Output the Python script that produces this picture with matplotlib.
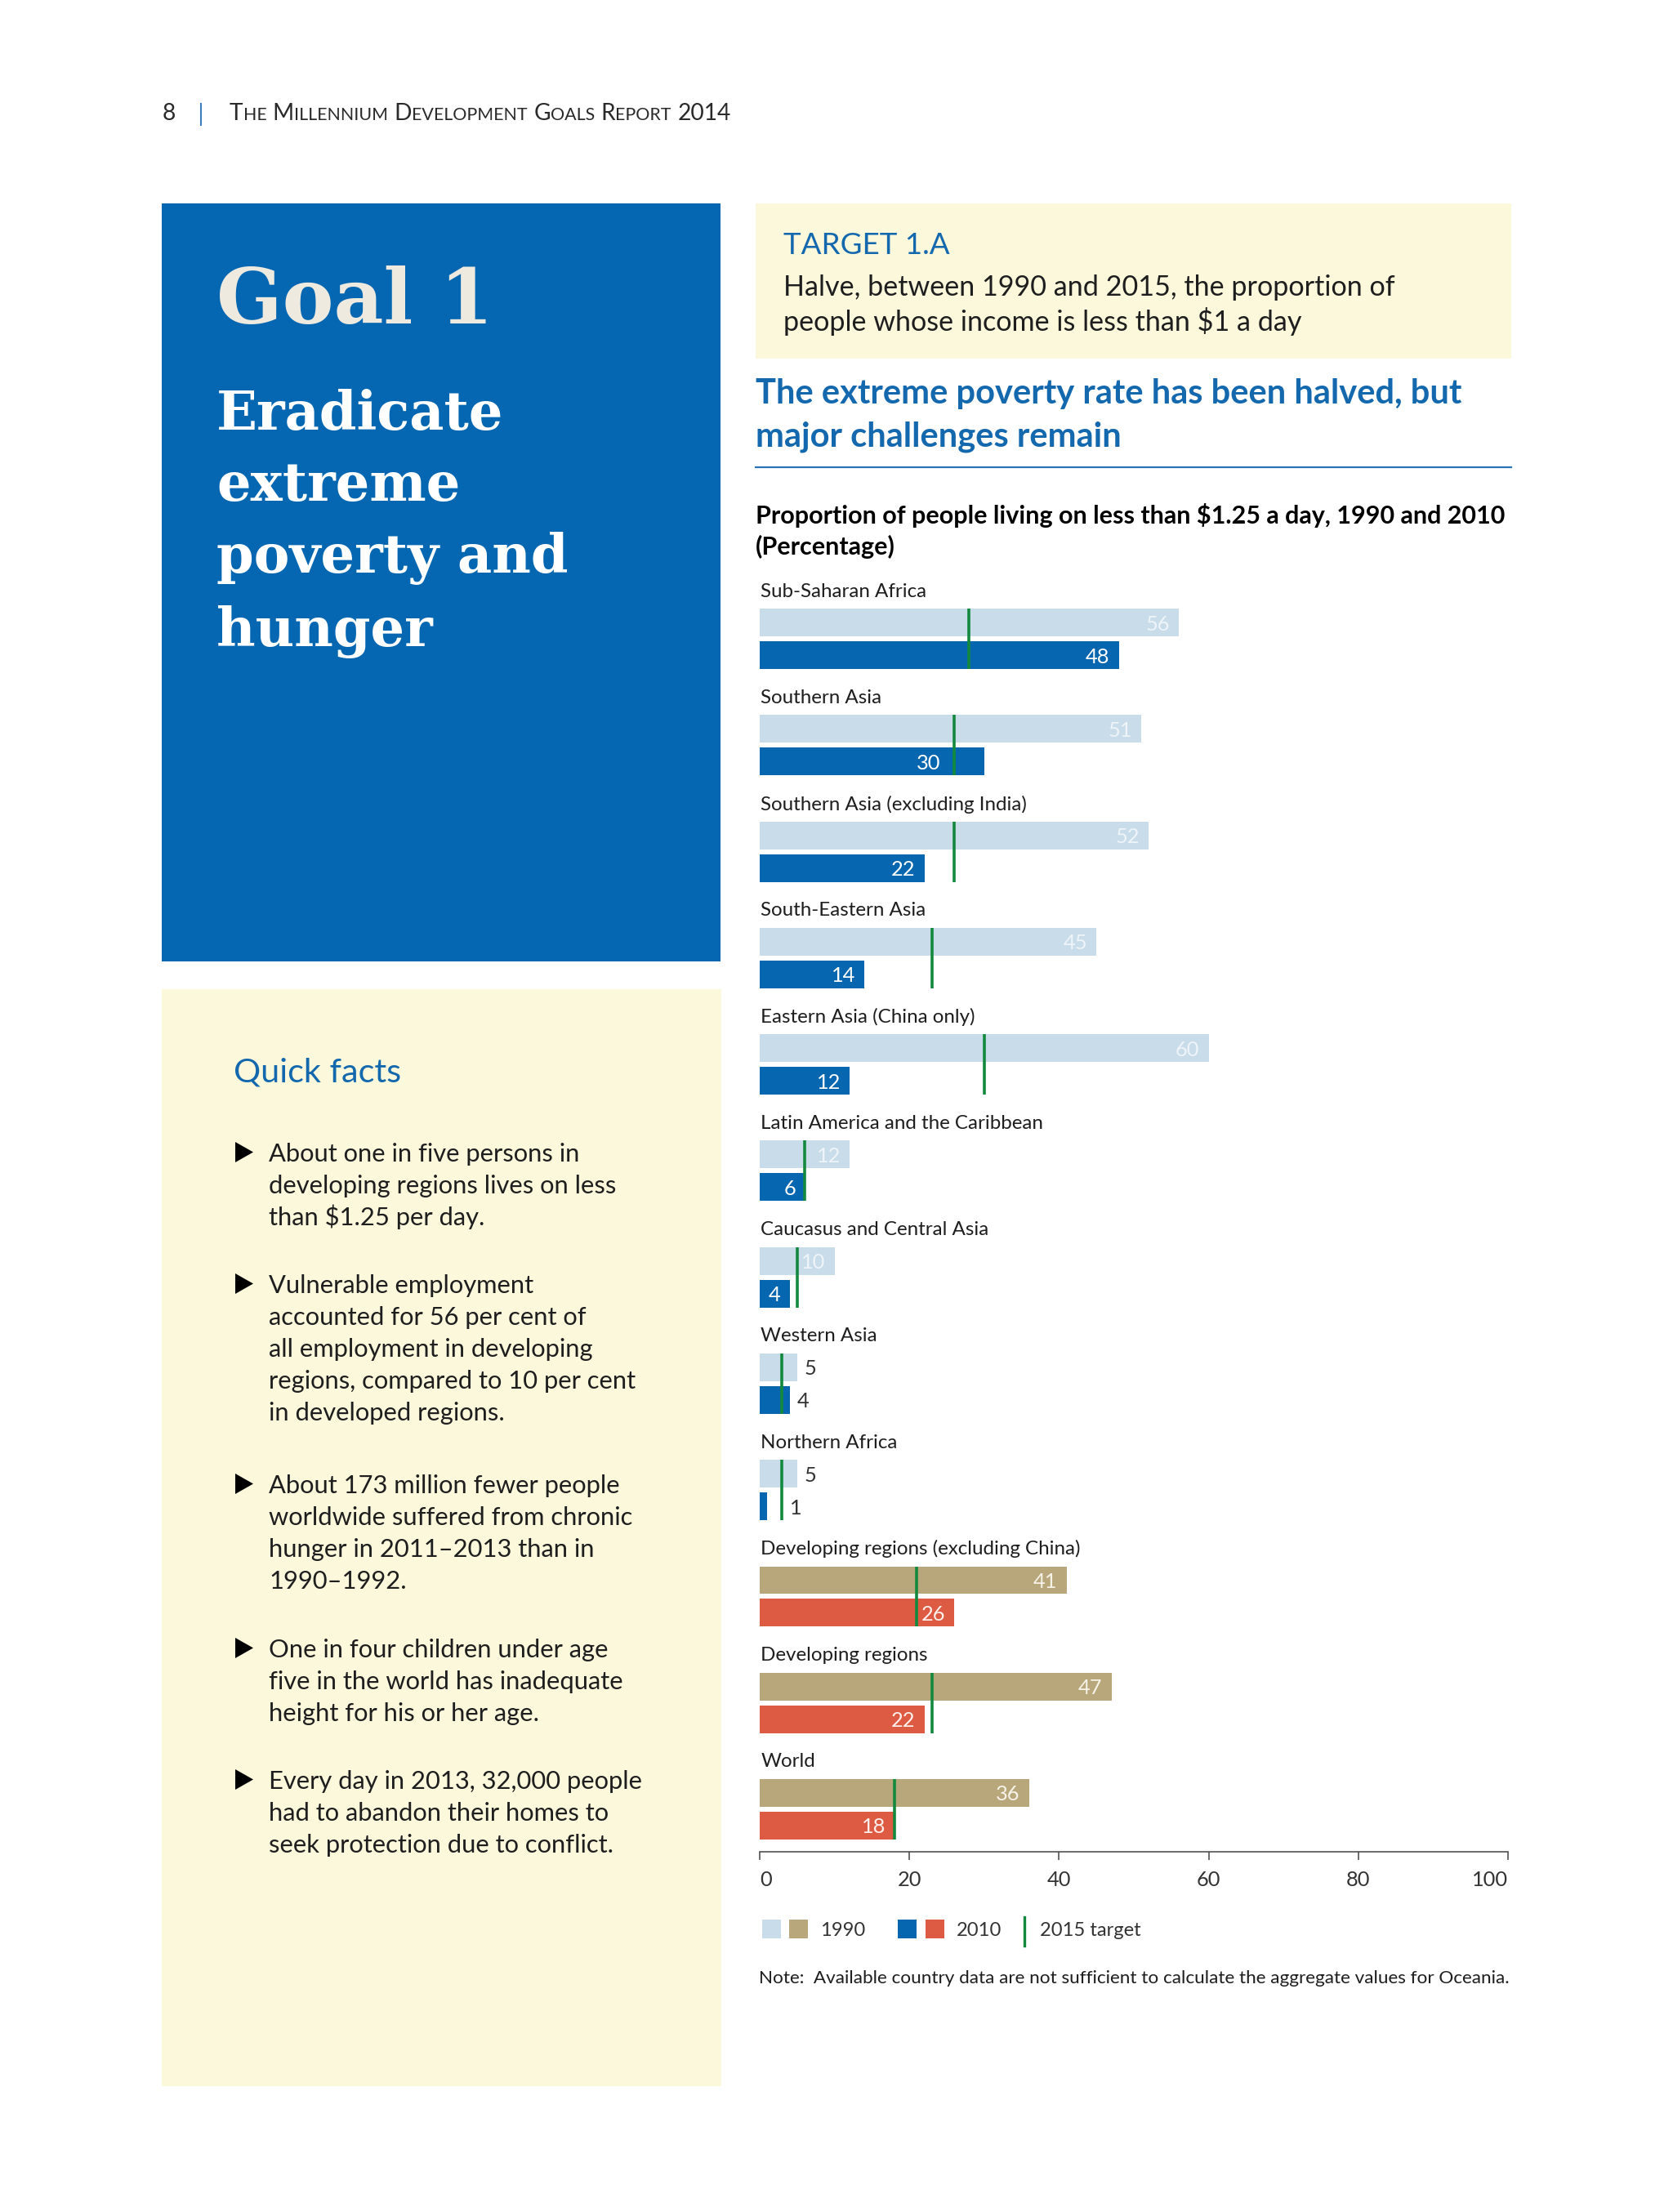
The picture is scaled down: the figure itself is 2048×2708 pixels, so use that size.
import matplotlib
matplotlib.use("Agg")
import matplotlib.pyplot as plt
from matplotlib import font_manager
from matplotlib.patches import Rectangle, Polygon

# chart data
regions = ["Sub-Saharan Africa", "Southern Asia", "Southern Asia (excluding India)",
           "South-Eastern Asia", "Eastern Asia (China only)",
           "Latin America and the Caribbean", "Caucasus and Central Asia",
           "Western Asia", "Northern Africa", "Developing regions (excluding China)",
           "Developing regions", "World"]
rate_1990 = [56, 51, 52, 45, 60, 12, 10, 5, 5, 41, 47, 36]
rate_2010 = [48, 30, 22, 14, 12, 6, 4, 4, 1, 26, 22, 18]
target_2015 = [28, 26, 26, 23, 30, 6, 5, 3, 3, 21, 23, 18]
n_subregions = 9          # rows after this are the aggregates (other colours)
x_ticks = [0, 20, 40, 60, 80, 100]

quick_facts = [
    ["About one in five persons in", "developing regions lives on less", "than $1.25 per day."],
    ["Vulnerable employment", "accounted for 56 per cent of", "all employment in developing",
     "regions, compared to 10 per cent", "in developed regions."],
    ["About 173 million fewer people", "worldwide suffered from chronic",
     "hunger in 2011\u20132013 than in", "1990\u20131992."],
    ["One in four children under age", "five in the world has inadequate", "height for his or her age."],
    ["Every day in 2013, 32,000 people", "had to abandon their homes to",
     "seek protection due to conflict."],
]
fact_baselines = [[1422, 1461, 1500], [1583, 1622, 1661, 1700, 1739],
                  [1828, 1867, 1906, 1945], [2029, 2068, 2107], [2190, 2229, 2268]]

# colours
LIGHT_BLUE = "#c9dcea"
DARK_BLUE = "#0766b0"
TAN = "#b7a77a"
RED = "#dd5b42"
GREEN = "#13893e"
PAGE_BLUE = "#0567b1"
PALE = "#fbf8dc"
HEAD_BLUE = "#1468ae"
INK = "#1e1e1e"


def has_font(name):
    try:
        font_manager.findfont(font_manager.FontProperties(family=name), fallback_to_default=False)
        return True
    except Exception:
        return False


SANS = "Lato" if has_font("Lato") else "DejaVu Sans"
NARROW = "Liberation Sans Narrow" if has_font("Liberation Sans Narrow") else SANS
plt.rcParams["font.family"] = [SANS, "DejaVu Sans"]

W, H = 2048, 2708
fig = plt.figure(figsize=(W / 100, H / 100), dpi=100, facecolor="white")
renderer = fig.canvas.get_renderer()

# page layer in pixel coordinates
bg = fig.add_axes([0, 0, 1, 1], zorder=0)
bg.set_xlim(0, W)
bg.set_ylim(H, 0)
bg.axis("off")


def fit(texts, width, ref=0):
    w = texts[ref].get_window_extent(renderer=renderer).width
    for t in texts:
        t.set_fontsize(t.get_fontsize() * width / w)
    return texts


def lines_at(x, baselines, lines, size, **kw):
    return [bg.text(x, y, s, fontsize=size, va="baseline", ha="left", **kw)
            for y, s in zip(baselines, lines)]


def small_caps(x0, y, s, size, ratio=0.76, **kw):
    arts, x = [], x0
    for k, word in enumerate(s.split(" ")):
        if k:
            x += 0.27 * size * 100 / 72
        runs = []
        for ch in word:
            small = ch.islower()
            if runs and runs[-1][1] == small:
                runs[-1][0] += ch
            else:
                runs.append([ch, small])
        for run, small in runs:
            t = bg.text(x, y, run.upper(), fontsize=size * ratio if small else size,
                        va="baseline", ha="left", **kw)
            x += t.get_window_extent(renderer=renderer).width
            arts.append(t)
    return arts, x


# header
hdr_kw = dict(color="#2a2a2a")
arts, xend = small_caps(281, 147, "The Millennium Development Goals Report 2014", 20, **hdr_kw)
scale = 610 / (xend - 281)
for a in arts:
    a.remove()
small_caps(281, 147, "The Millennium Development Goals Report 2014", 20 * scale, **hdr_kw)
bg.text(199, 147, "8", fontsize=20 * scale, va="baseline", ha="left", **hdr_kw)
bg.plot([246, 246], [127, 153], color="#3d7fc0", lw=1.5)

# goal box
bg.add_patch(Rectangle((198, 249), 684, 928, color=PAGE_BLUE, lw=0))
fit([bg.text(265, 396, "Goal 1", fontsize=70, family="DejaVu Serif", fontweight="bold",
             color="#eeeae0", va="baseline")], 339)
goal_lines = ["Eradicate", "extreme", "poverty and", "hunger"]
gl = lines_at(265, [526, 613, 701, 791], goal_lines, 45, family="DejaVu Serif",
              fontweight="bold", color="white")
fit(gl, 431, ref=2)

# quick facts box
bg.add_patch(Rectangle((198, 1211), 685, 1343, color=PALE, lw=0))
fit([bg.text(286, 1325, "Quick facts", fontsize=26, color=HEAD_BLUE, va="baseline")], 205)
fact_texts = []
for lines, bases in zip(quick_facts, fact_baselines):
    fact_texts += lines_at(329, bases, lines, 20, color=INK)
    b = bases[0]
    bg.add_patch(Polygon([(288, b - 24), (288, b + 1), (310, b - 11.5)], closed=True,
                         color="black", lw=0))
fit(fact_texts, 390, ref=4)

# target box
bg.add_patch(Rectangle((925, 249), 925, 190, color=PALE, lw=0))
fit([bg.text(959, 311, "TARGET 1.A", fontsize=24, color=HEAD_BLUE, va="baseline",
             family=[NARROW, "DejaVu Sans"])], 204)
fit(lines_at(959, [362, 405], ["Halve, between 1990 and 2015, the proportion of",
                               "people whose income is less than $1 a day"], 22,
             color=INK, family=[NARROW, "DejaVu Sans"]), 748)

# headline and chart title
fit(lines_at(925, [494, 546], ["The extreme poverty rate has been halved, but",
                               "major challenges remain"], 28, color=HEAD_BLUE,
             fontweight="bold", family=[NARROW, "DejaVu Sans"]), 864)
bg.plot([925, 1850], [572, 572], color="#2a72b5", lw=1.6)
fit(lines_at(925, [641, 679], ["Proportion of people living on less than $1.25 a day, 1990 and 2010",
                               "(Percentage)"], 22, color="black", fontweight="bold",
             family=[NARROW, "DejaVu Sans"]), 915)

# chart
ax = fig.add_axes([930 / W, 1 - 2267 / H, 916 / W, (2267 - 683) / H], zorder=2)
ax.set_facecolor("none")
ax.set_xlim(0, 100)
ax.set_ylim(11.86, -0.30)

lab = ax.text(0.15, 0, regions[0], va="center_baseline", ha="left", fontsize=16, color=INK)
fit([lab], 204)
fs = lab.get_fontsize()

bar_h = 0.26
for i, name in enumerate(regions):
    y90, y10 = i + 0.307, i + 0.614
    agg = i >= n_subregions
    c90, c10 = (TAN, RED) if agg else (LIGHT_BLUE, DARK_BLUE)
    t90, t10 = ("#f6f2e8", "#fdf0ec") if agg else ("#eef4f8", "white")
    if i:
        ax.text(0.15, i, name, va="center_baseline", ha="left", fontsize=fs, color=INK)
    ax.barh(y90, rate_1990[i], height=bar_h, color=c90, lw=0, zorder=2)
    ax.barh(y10, rate_2010[i], height=bar_h, color=c10, lw=0, zorder=2)
    ax.vlines(target_2015[i], y90 - bar_h / 2, y10 + bar_h / 2, color=GREEN, lw=2.6, zorder=3)
    for v, y, tc in ((rate_1990[i], y90, t90), (rate_2010[i], y10, t10)):
        t = target_2015[i]
        right = v - 1.2
        if right - 3.4 < t < right + 0.8:
            right = t - 1.8
        if right < 2.0:
            ax.text(max(v, t) + 1.0, y, str(v), va="center_baseline", ha="left",
                    fontsize=fs * 1.05, color="#333333", zorder=4)
        else:
            ax.text(right, y, str(v), va="center_baseline", ha="right",
                    fontsize=fs * 1.05, color=tc, zorder=4)

for side in ("left", "top", "right"):
    ax.spines[side].set_visible(False)
ax.spines["bottom"].set_color("#444444")
ax.spines["bottom"].set_linewidth(1.1)
ax.set_yticks([])
ax.set_xticks(x_ticks)
ax.set_xticklabels([str(v) for v in x_ticks])
ax.tick_params(axis="x", direction="out", length=7.5, width=1.1, color="#444444",
               labelsize=fs * 1.05, labelcolor="#333333", pad=9)
tl = ax.get_xticklabels()
tl[0].set_ha("left")
tl[-1].set_ha("right")

# legend
for x0, c in ((933, LIGHT_BLUE), (966, TAN), (1099, DARK_BLUE), (1133, RED)):
    bg.add_patch(Rectangle((x0, 2350), 23, 23, color=c, lw=0))
bg.plot([1254, 1254], [2347, 2382], color=GREEN, lw=2.4)
leg = [bg.text(1004, 2370, "1990", fontsize=fs, va="baseline", color="#333333"),
       bg.text(1171, 2370, "2010", fontsize=fs, va="baseline", color="#333333"),
       bg.text(1273, 2370, "2015 target", fontsize=fs, va="baseline", color="#333333")]
fit(leg, 55)

fit([bg.text(929, 2428, "Note:  Available country data are not sufficient to calculate the aggregate values for Oceania.",
             fontsize=15, va="baseline", color=INK)], 919)

fig.savefig("out.png", dpi=100, facecolor="white")
